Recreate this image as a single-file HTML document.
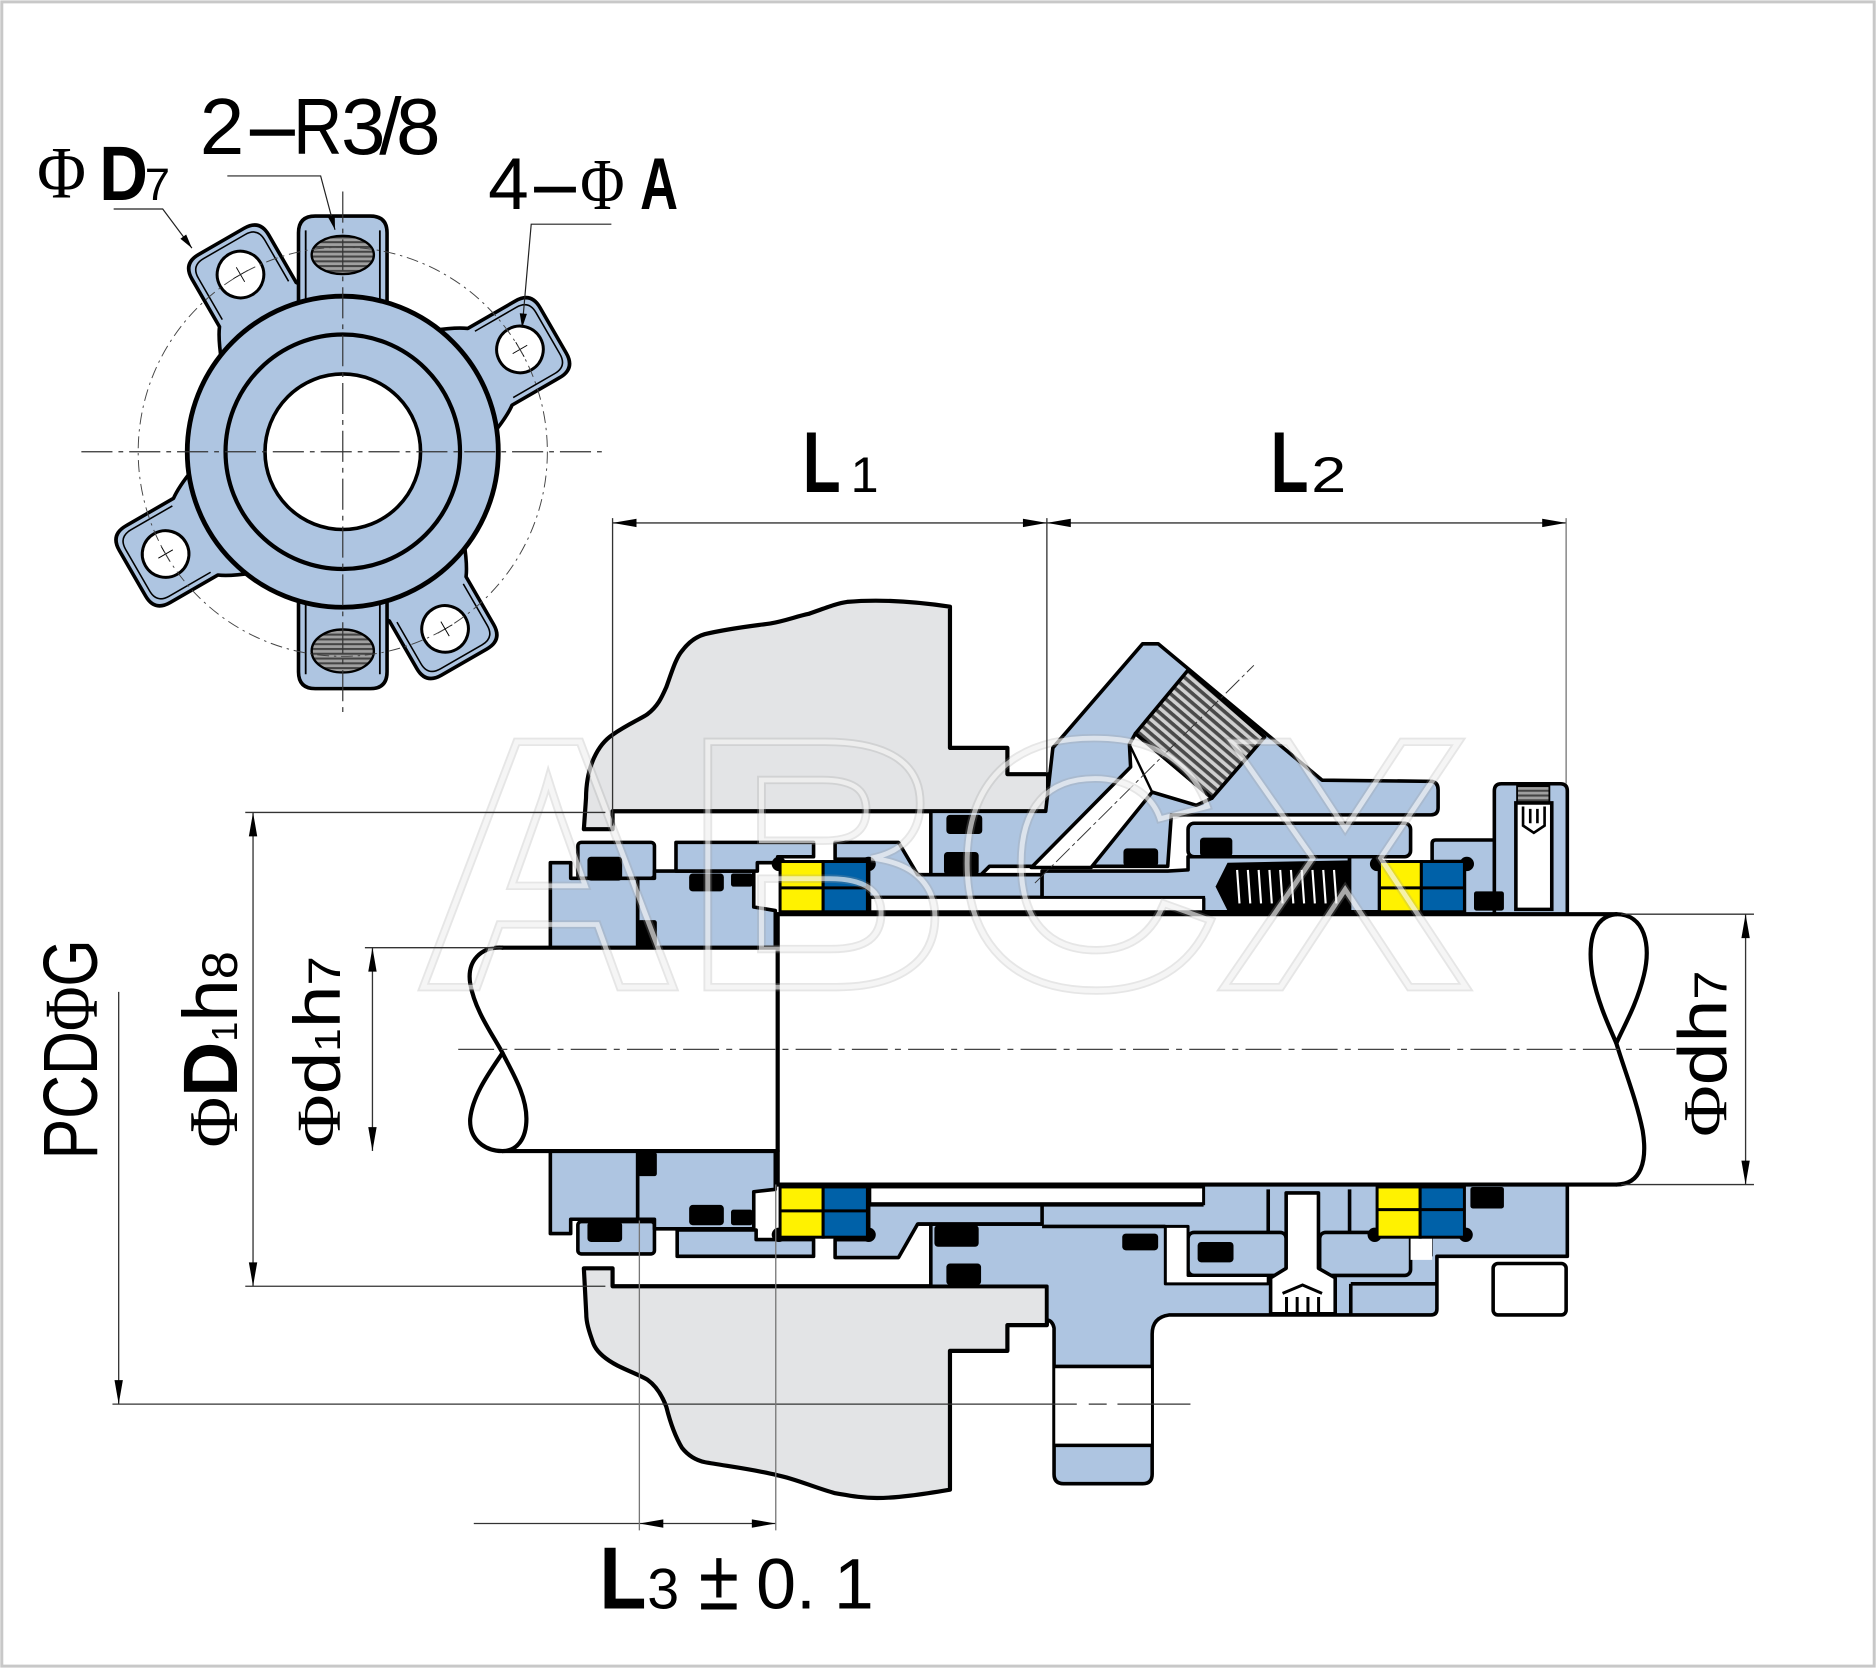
<!DOCTYPE html>
<html><head><meta charset="utf-8">
<style>
html,body{margin:0;padding:0;background:#fff;}
svg{display:block;}
</style></head><body>
<svg width="1876" height="1668" viewBox="0 0 1568 1394" xmlns="http://www.w3.org/2000/svg" font-family="Liberation Sans, sans-serif">
<defs>
 <pattern id="thr" patternUnits="userSpaceOnUse" width="6" height="6" patternTransform="rotate(40.6)">
  <rect width="6" height="6" fill="#d0d0d0"/><rect width="6" height="3" fill="#4a4a4a"/>
 </pattern>
 <pattern id="hs" patternUnits="userSpaceOnUse" width="4" height="4">
  <rect width="4" height="4" fill="#a0a0a0"/><rect width="4" height="1.7" fill="#444"/>
 </pattern>
 <g id="ear">
  <path d="M116,-50 Q134,-43 142,-37 L188,-37 Q203,-37 203,-22 L203,22 Q203,37 188,37 L142,37 Q134,43 116,50 Z" fill="#aec5e1" stroke="#000" stroke-width="3"/>
  <path d="M146,-32 L186,-32 Q198,-32 198,-20 L198,20 Q198,32 186,32 L146,32" fill="none" stroke="#000" stroke-width="1.3"/>
  <circle cx="171" cy="0" r="19.5" fill="#fff" stroke="#000" stroke-width="2.5"/>
  <path d="M164,0 H178 M171,-7 V7" stroke="#000" stroke-width="0.8"/>
 </g>
</defs>
<rect x="0" y="0" width="1568" height="1394" fill="#fff"/>
<rect x="1.5" y="1.5" width="1565" height="1391" fill="none" stroke="#c8c8c8" stroke-width="2.5"/>

<!-- ================= FLANGE VIEW ================= -->
<g transform="translate(286.5,377.5)" stroke-linejoin="round">
 <use href="#ear" transform="rotate(-120)"/>
 <use href="#ear" transform="rotate(-30)"/>
 <use href="#ear" transform="rotate(60)"/>
 <use href="#ear" transform="rotate(150)"/>
 <!-- bosses -->
 <path d="M-37,-110 L-37,-183 Q-37,-197 -23,-197 L23,-197 Q37,-197 37,-183 L37,-110 Z" fill="#aec5e1" stroke="#000" stroke-width="3"/>
 <path d="M-31,-185 V-120 M31,-185 V-120" stroke="#000" stroke-width="1.5"/>
 <ellipse cx="0" cy="-164.5" rx="26" ry="16" fill="url(#hs)" stroke="#000" stroke-width="2"/>
 <path d="M-37,110 L-37,184 Q-37,198 -23,198 L23,198 Q37,198 37,184 L37,110 Z" fill="#aec5e1" stroke="#000" stroke-width="3"/>
 <path d="M-31,120 V186 M31,120 V186" stroke="#000" stroke-width="1.5"/>
 <ellipse cx="0" cy="166.5" rx="26" ry="18" fill="url(#hs)" stroke="#000" stroke-width="2"/>
 <!-- ring -->
 <circle r="130" fill="#aec5e1" stroke="#000" stroke-width="4"/>
 <circle r="98" fill="none" stroke="#000" stroke-width="3.5"/>
 <circle r="65" fill="#fff" stroke="#000" stroke-width="3"/>
 <circle r="171" fill="none" stroke="#444" stroke-width="0.8" stroke-dasharray="10 4 2 4"/>
</g>
<path d="M68,377.5 H503" stroke="#333" stroke-width="1" stroke-dasharray="26 5 4 5"/>
<path d="M286.5,160 V595" stroke="#333" stroke-width="1" stroke-dasharray="26 5 4 5"/>

<!-- flange labels -->
<text transform="translate(31,165) scale(0.9,1)" font-size="62" font-family="Liberation Serif, serif">Φ</text>
<text transform="translate(83,167) scale(0.88,1)" font-size="64" font-weight="bold">D</text>
<text x="121" y="167" font-size="38">7</text>
<path d="M95,174.6 H136 L160.4,207.3" fill="none" stroke="#222" stroke-width="1"/>
<polygon points="160.4,207.3 155.6,195.9 150.8,199.5" fill="#000"/>

<text x="167" y="128.6" font-size="67">2</text>
<text transform="translate(202,128.6) scale(2.3,1)" font-size="67">-</text>
<text transform="translate(245,128.6) scale(0.85,1)" font-size="67">R</text>
<text x="285" y="128.6" font-size="67">3</text>
<text x="317" y="128.6" font-size="67">/</text>
<text x="331" y="128.6" font-size="67">8</text>
<path d="M190,147 H268 L280,192" fill="none" stroke="#222" stroke-width="1"/>
<polygon points="280,192 279.8,179.6 274,181.2" fill="#000"/>

<text x="408" y="174.6" font-size="61">4</text>
<text transform="translate(440,174.6) scale(2.35,1)" font-size="61">-</text>
<text transform="translate(485,174.6) scale(0.83,1)" font-size="61" font-family="Liberation Serif, serif">Φ</text>
<text transform="translate(535,174.6) scale(0.72,1)" font-size="61" font-weight="bold">A</text>
<path d="M511,187.3 H444 L436.4,274" fill="none" stroke="#222" stroke-width="1"/>
<polygon points="436.4,274 440.4,262.3 434.4,261.7" fill="#000"/>

<!-- ================= SECTION VIEW ================= -->
<!-- housing upper -->
<path d="M488,693 L489.8,667 C490,640 500,622 512,614 C525,605 537,600 541,597 C550,590 553,583 557,574 C562,560 565,550 570,544 C576,536 582,532 589,530 C610,525 630,523 644,521 C656,519 666,515 676,513 C690,508 700,504 708,503 C730,501 760,502 794,507 L794,625 L842,625 L842,647 L876,647 L876,678 L512,678 L512,693 Z" fill="#e3e4e6" stroke="#000" stroke-width="3.5" stroke-linejoin="round"/>
<!-- housing lower -->
<path d="M488,1060 L512,1060 L512,1075 L875,1075 L875,1107.5 L842,1107.5 L842,1129 L794,1129 L794,1245 C770,1249 750,1252 733,1252 C720,1252 710,1250 698,1248 C680,1243 665,1236 650,1233 C630,1228 605,1225 589,1222 C580,1220 574,1215 570,1210 C564,1200 560,1188 557,1176 C553,1165 548,1158 541,1153 C530,1147 520,1144 512,1139 C502,1133 498,1128 496,1123 C492,1112 490,1105 490,1098 Z" fill="#e3e4e6" stroke="#000" stroke-width="3.5" stroke-linejoin="round"/>

<!-- upper parts -->
<g fill="#aec5e1" stroke="#000" stroke-width="3" stroke-linejoin="round">
 <rect x="483" y="704" width="64" height="30" rx="3"/>
 <path d="M460,721 L477,721 L477,734 L533,734 L533,792 L460,792 Z"/>
 <path d="M533,734 L547,734 L547,728 L630,728 L630,758 L648,761 L648,792 L533,792 Z"/>
 <path d="M565,704 L680,704 L680,716 L650,716 L650,721 L633,721 L633,728 L565,728 Z"/>
 <path d="M698,704 L751,704 L767,731 L871,731 L871,750 L726,750 L726,718 L698,718 Z"/>
 <path d="M778,731 L778,678 L874,678 L880,625 L955,538 L968,538 L1105,652 L1197,653 Q1202,654 1202,660 L1202,675 Q1202,681 1196,681 L979,681 L976,724 L827,724 L820,731 Z"/>
 <rect x="993" y="688" width="186" height="28" rx="5"/>
 <path d="M871,728 L976,728 L993,727 L993,716 L1128,716 L1128,762 L1006,762 L1006,751 L871,751 Z"/>
 <rect x="1128" y="716" width="25" height="46"/>
 <path d="M1197,705 Q1197,702 1200,702 L1259,702 Q1262,702 1262,705 L1262,764 L1224,764 L1224,720 L1197,720 Z"/>
 <path d="M1249,764 L1249,661 Q1249,655 1255,655 L1304,655 Q1310,655 1310,661 L1310,764 Z"/>
</g>
<!-- passage + plug -->
<path d="M862,725 L945,641 L944,622 L949,613 L1013,667 L1000,673 L963,662 L912,725 Z" fill="#fff" stroke="#000" stroke-width="3" stroke-linejoin="round"/>
<path d="M944,622 L963,662" fill="none" stroke="#000" stroke-width="2"/>
<path d="M949,613 L993,560 L1057,616 L1013,667 Z" fill="url(#thr)" stroke="#000" stroke-width="3" stroke-linejoin="round"/>
<path d="M865,738 L1048,556" stroke="#333" stroke-width="0.8" stroke-dasharray="16 3 3 3"/>
<rect x="727" y="750" width="279" height="12" fill="#fff" stroke="#000" stroke-width="2.5"/>
<!-- spring -->
<path d="M1016,741 L1026,721 L1128,719 L1128,761 L1026,761 Z" fill="#000"/>
<g stroke="#fff" stroke-width="1.8">
 <path d="M1034,727 L1036,755 M1043,727 L1045,755 M1052,727 L1054,755 M1061,727 L1063,755 M1070,727 L1072,755 M1079,727 L1081,755 M1088,727 L1090,755 M1097,727 L1099,755 M1106,727 L1108,755 M1115,727 L1117,755"/>
</g>
<!-- set screw -->
<rect x="1268" y="657" width="27" height="14" fill="url(#hs)" stroke="#000" stroke-width="1.5"/>
<path d="M1267,671 L1297,671 L1297,760 L1267,760 Z" fill="#fff" stroke="#000" stroke-width="3"/>
<path d="M1273,674 L1273,690 L1282,696 L1291,690 L1291,674 M1279,676 V688 M1285,676 V688" fill="none" stroke="#000" stroke-width="2.2"/>
<!-- upper o-rings -->
<g fill="#000">
 <rect x="491" y="716" width="29" height="20" rx="3"/>
 <rect x="576" y="730" width="29" height="15" rx="3"/>
 <rect x="611" y="730" width="18" height="11" rx="2"/>
 <rect x="533" y="769" width="16" height="22" rx="2"/>
 <rect x="791" y="681" width="30" height="16" rx="3"/>
 <rect x="789" y="712" width="29" height="19" rx="3"/>
 <rect x="939" y="709" width="29" height="15" rx="3"/>
 <rect x="1003" y="700" width="27" height="16" rx="3"/>
 <rect x="1232" y="745" width="25" height="16" rx="2"/>
 <circle cx="651" cy="722" r="6"/><circle cx="726" cy="722" r="6"/>
 <circle cx="1151" cy="722" r="6"/><circle cx="1226" cy="722" r="6"/>
</g>
<!-- upper seal faces -->
<g stroke="#000" stroke-width="2.5">
 <rect x="652" y="720" width="36" height="42" fill="#fff200"/>
 <rect x="688" y="720" width="37" height="42" fill="#0061a8"/>
 <line x1="652" y1="742" x2="725" y2="742"/>
 <rect x="1153" y="720" width="35" height="42" fill="#fff200"/>
 <rect x="1188" y="720" width="36" height="42" fill="#0061a8"/>
 <line x1="1153" y1="742" x2="1224" y2="742"/>
</g>

<!-- lower parts -->
<g fill="#aec5e1" stroke="#000" stroke-width="3" stroke-linejoin="round">
 <rect x="483" y="1021" width="64" height="27" rx="3"/>
 <path d="M460,962 L533,962 L533,1019 L477,1019 L477,1031 L460,1031 Z"/>
 <path d="M533,962 L648,962 L648,994 L630,996 L630,1027 L547,1027 L547,1019 L533,1019 Z"/>
 <path d="M566,1028 L632,1028 L632,1036 L680,1036 L680,1050 L566,1050 Z"/>
 <path d="M726,990 L1310,990 L1310,1050 L1201,1050 L1201,1094 Q1201,1099 1196,1099 L977,1099 Q963,1101 963,1115 L963,1232 Q963,1240 955,1240 L889,1240 Q881,1240 881,1232 L881,1110 Q880,1104 875,1103 L875,1075 L778,1075 L778,1023 L767,1023 L751,1051 L698,1051 L698,1036 L726,1036 Z"/>
</g>
<g fill="none" stroke="#000" stroke-width="3" stroke-linejoin="round">
 <path d="M698,1036 L726,1036 L726,1007 L871,1007 L871,1023 L767,1023"/>
 <path d="M871,1007 L1006,1007"/>
 <path d="M778,1023 L871,1023 M871,1025 L974,1025"/>
 <rect x="993" y="1030" width="82" height="36" rx="5" fill="#aec5e1"/>
 <rect x="1103" y="1030" width="76" height="36" rx="5" fill="#aec5e1"/>
 <path d="M1129,1073 L1201,1073 M1129,1073 L1129,1099"/>
 <path d="M1187,1034 L1196,1034 L1196,1050"/>
 <path d="M1060,994 L1060,1030 M1128,994 L1128,1030"/>
</g>
<path d="M974,1025 L993,1025 L993,1066 L1060,1066 L1060,1073 L974,1073 Z" fill="#fff" stroke="#000" stroke-width="2.5" stroke-linejoin="round"/>
<path d="M1179,1034 L1197,1034 L1197,1053 L1179,1053 Z" fill="#fff" stroke="none"/>
<rect x="727" y="992" width="279" height="14" fill="#fff" stroke="#000" stroke-width="2.5"/>
<!-- pin -->
<path d="M1075,997 L1102,997 L1102,1060 L1116,1068 L1116,1098 L1062,1098 L1062,1068 L1075,1060 Z" fill="#fff" stroke="#000" stroke-width="3" stroke-linejoin="round"/>
<path d="M1072,1081 L1088.7,1074 L1105,1081 M1075.3,1084 V1098 M1084.2,1084 V1098 M1093.2,1084 V1098 M1102.1,1084 V1098" fill="none" stroke="#000" stroke-width="2.5"/>
<!-- port passage -->
<rect x="882" y="1142" width="80" height="66" fill="#fff"/>
<path d="M881,1142 H963 M881,1208 H963" stroke="#000" stroke-width="3"/>
<!-- drive collar lower -->
<rect x="1248" y="1056" width="61" height="43" rx="4" fill="#fff" stroke="#000" stroke-width="3"/>
<!-- lower o-rings -->
<g fill="#000">
 <rect x="491" y="1021" width="29" height="17" rx="3"/>
 <rect x="576" y="1007" width="29" height="17" rx="3"/>
 <rect x="611" y="1011" width="18" height="13" rx="2"/>
 <rect x="533" y="963" width="16" height="20" rx="2"/>
 <rect x="781" y="1024" width="37" height="18" rx="3"/>
 <rect x="791" y="1056" width="29" height="18" rx="3"/>
 <rect x="938" y="1031" width="30" height="14" rx="3"/>
 <rect x="1001" y="1038" width="30" height="17" rx="3"/>
 <rect x="1229" y="992" width="28" height="18" rx="2"/>
 <circle cx="651" cy="1032" r="6"/><circle cx="726" cy="1032" r="6"/>
 <circle cx="1149" cy="1032" r="6"/><circle cx="1225" cy="1032" r="6"/>
</g>
<g stroke="#000" stroke-width="2.5">
 <rect x="652" y="992" width="36" height="42" fill="#fff200"/>
 <rect x="688" y="992" width="37" height="42" fill="#0061a8"/>
 <line x1="652" y1="1012" x2="725" y2="1012"/>
 <rect x="1151" y="992" width="36" height="42" fill="#fff200"/>
 <rect x="1187" y="992" width="37" height="42" fill="#0061a8"/>
 <line x1="1151" y1="1011" x2="1224" y2="1011"/>
</g>

<!-- shaft -->
<g fill="none" stroke="#000" stroke-width="3.5" stroke-linecap="round">
 <path d="M420,792 L650,792 M420,962 L650,962"/>
 <path d="M650,764 L650,990"/>
 <path d="M650,764 L1351,764 M650,990 L1351,990"/>
 <path d="M420,792 C402,791 390,803 393,822 C397,845 412,865 420,880 C428,896 440,915 440,935 C440,952 432,962 420,962"/>
 <path d="M420,880 C410,895 395,915 393,935 C392,952 405,962 420,962"/>
 <path d="M1351,764 C1375,764 1380,790 1374,815 C1368,840 1356,860 1351,872"/>
 <path d="M1351,764 C1330,766 1327,790 1331,815 C1336,840 1346,860 1351,872 C1358,895 1368,920 1373,945 C1377,970 1372,990 1351,990"/>
</g>
<path d="M383,877 H1415" stroke="#444" stroke-width="1.1" stroke-dasharray="30 6 5 6"/>

<!-- watermark -->
<text x="346" y="825" font-weight="bold" font-size="298" textLength="882" lengthAdjust="spacingAndGlyphs" fill="none" stroke="#9a9a9a" stroke-opacity="0.25" stroke-width="7">ABCX</text>
<text x="346" y="825" font-weight="bold" font-size="298" textLength="882" lengthAdjust="spacingAndGlyphs" fill="none" stroke="#fff" stroke-opacity="0.6" stroke-width="4">ABCX</text>

<!-- ================= DIMENSIONS ================= -->
<g stroke="#333" stroke-width="1.1" fill="none">
 <path d="M512,437 H1309"/>
 <path d="M512,433 V690 M875,433 V646"/>
 <path d="M1309,433 V655" stroke="#777"/>
 <path d="M205,679 H506 M205,1075 H506"/>
 <path d="M211.5,679 V1075"/>
 <path d="M305,792 H420"/>
 <path d="M311.3,792 V962"/>
 <path d="M99.2,829 V1173.5"/>
 <path d="M94,1173.5 H900 M910,1173.5 H925 M934,1173.5 H995"/>
 <path d="M1355,764 H1466 M1355,990 H1466"/>
 <path d="M1459,764 V990"/>
 <path d="M396,1273.3 H648"/>
 <path d="M534.4,1020 V1279 M648.4,990 V1279" stroke="#777"/>
</g>
<g fill="#000">
 <polygon points="512,437 532,433.5 532,440.5"/>
 <polygon points="875,437 855,433.5 855,440.5"/>
 <polygon points="875,437 895,433.5 895,440.5"/>
 <polygon points="1309,437 1289,433.5 1289,440.5"/>
 <polygon points="211.5,679 208,699 215,699"/>
 <polygon points="211.5,1075 208,1055 215,1055"/>
 <polygon points="311.3,792 307.8,812 314.8,812"/>
 <polygon points="311.3,962 307.8,942 314.8,942"/>
 <polygon points="99.2,1173.5 95.7,1153.5 102.7,1153.5"/>
 <polygon points="1459,764 1455.5,784 1462.5,784"/>
 <polygon points="1459,990 1455.5,970 1462.5,970"/>
 <polygon points="534.4,1273.3 554.4,1269.8 554.4,1276.8"/>
 <polygon points="648.4,1273.3 628.4,1269.8 628.4,1276.8"/>
</g>

<!-- dimension labels -->
<text transform="translate(671,411) scale(0.72,1)" font-size="72" font-weight="bold">L</text>
<text x="711" y="411" font-size="42">1</text>
<text transform="translate(1062,411) scale(0.72,1)" font-size="72" font-weight="bold">L</text>
<text transform="translate(1096,411) scale(1.25,1)" font-size="42">2</text>

<text transform="translate(81,969) rotate(-90)" font-size="64" textLength="184" lengthAdjust="spacingAndGlyphs">PCD<tspan font-family="Liberation Serif, serif">Φ</tspan>G</text>
<text transform="translate(198,959) rotate(-90)" font-size="64" textLength="164" lengthAdjust="spacingAndGlyphs"><tspan font-family="Liberation Serif, serif" font-size="58">Φ</tspan><tspan font-weight="bold">D</tspan><tspan font-size="30">1</tspan><tspan>h</tspan><tspan font-size="42">8</tspan></text>
<text transform="translate(284,959) rotate(-90)" font-size="55" textLength="160" lengthAdjust="spacingAndGlyphs"><tspan font-family="Liberation Serif, serif" font-size="52">Φ</tspan><tspan>d</tspan><tspan font-size="30">1</tspan><tspan>h</tspan><tspan font-size="38">7</tspan></text>
<text transform="translate(1443,950) rotate(-90)" font-size="57" textLength="139" lengthAdjust="spacingAndGlyphs"><tspan font-family="Liberation Serif, serif" font-size="52">Φ</tspan><tspan>dh</tspan><tspan font-size="39">7</tspan></text>

<text transform="translate(501,1344.3) scale(0.87,1)" font-size="74" font-weight="bold">L</text>
<text x="541" y="1344.3" font-size="48">3</text>
<text transform="translate(584,1345) scale(0.85,1)" font-size="72">±</text>
<text x="632" y="1344.3" font-size="60">0.</text>
<text x="697" y="1344.3" font-size="60">1</text>
</svg>
</body></html>
